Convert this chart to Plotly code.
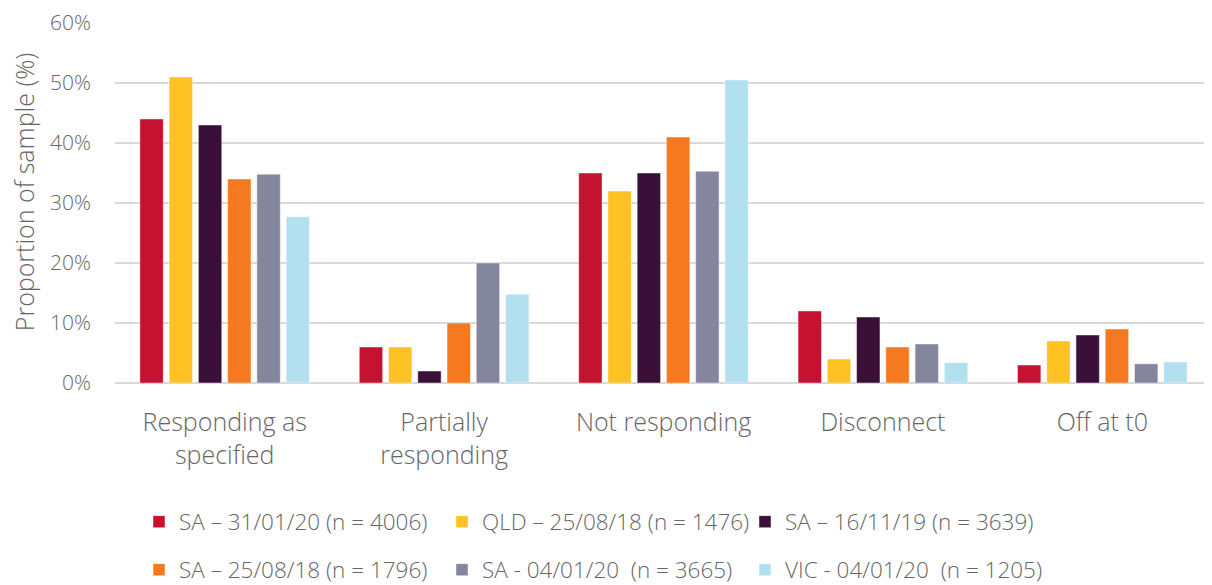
import plotly.graph_objects as go

categories = ["Responding as<br>specified", "Partially<br>responding", "Not responding", "Disconnect", "Off at t0"]
series_names = [
    "SA – 31/01/20 (n = 4006)",
    "QLD – 25/08/18 (n = 1476)",
    "SA – 16/11/19 (n = 3639)",
    "SA – 25/08/18 (n = 1796)",
    "SA - 04/01/20\u00a0\u00a0(n = 3665)",
    "VIC - 04/01/20\u00a0\u00a0(n = 1205)",
]
sa_310120 = [44, 6, 35, 12, 3]
qld_250818 = [51, 6, 32, 4, 7]
sa_161119 = [43, 2, 35, 11, 8]
sa_250818 = [34, 10, 41, 6, 9]
sa_040120 = [34.8, 20, 35.3, 6.5, 3.2]
vic_040120 = [27.7, 14.8, 50.5, 3.4, 3.5]
series_values = [sa_310120, qld_250818, sa_161119, sa_250818, sa_040120, vic_040120]
colors = ["#C41230", "#FFC222", "#3A1038", "#F47920", "#83869C", "#B3E0EE"]
y_ticks = [0, 10, 20, 30, 40, 50, 60]
y_ticklabels = ["0%", "10%", "20%", "30%", "40%", "50%", "60%"]
y_title = "Proportion of sample (%)"

font_family = "Open Sans, sans-serif"
text_color = "#666666"

# page body has an 8px margin, so the figure is drawn 8px smaller
W, H = 1204, 577

fig = go.Figure()
for i, (name, vals, col) in enumerate(zip(series_names, series_values, colors)):
    fig.add_trace(go.Bar(
        x=categories, y=vals, name=name,
        marker=dict(color=col, line=dict(color="rgba(255,255,255,0.45)", width=1)),
        legend="legend" if i < 3 else "legend2",
    ))

legend_common = dict(
    orientation="h", xref="container", yref="container",
    xanchor="left", yanchor="middle",
    font=dict(family=font_family, size=22.5, color=text_color, weight=300),
    bgcolor="rgba(0,0,0,0)", itemwidth=30,
    entrywidth=258, entrywidthmode="pixels",
)

fig.update_layout(
    width=W, height=H,
    margin=dict(l=107, r=0, t=15, b=202),
    paper_bgcolor="white", plot_bgcolor="white",
    barmode="group", bargap=0.2, bargroupgap=0.2,
    font=dict(family=font_family, size=20, color=text_color, weight=300),
    legend=dict(x=131 / W, y=1 - 514 / H, **legend_common),
    legend2=dict(x=131 / W, y=1 - 562 / H, **legend_common),
    xaxis=dict(
        tickfont=dict(size=25, color=text_color, weight=300),
        showgrid=False, showline=False, ticks="", ticklabelstandoff=22,
    ),
    yaxis=dict(
        range=[0, 60], tickvals=y_ticks, ticktext=y_ticklabels,
        tickfont=dict(size=21, color=text_color, weight=300),
        showgrid=True, gridcolor="#D9D9D9", gridwidth=1.5,
        zeroline=True, zerolinecolor="#D9D9D9", zerolinewidth=1.5,
        ticks="", ticklen=0, ticklabelstandoff=23,
    ),
    annotations=[dict(
        text=y_title, textangle=-90, showarrow=False,
        xref="paper", yref="paper", x=0, y=0.53, xanchor="center", yanchor="middle",
        xshift=-91, font=dict(family=font_family, size=25, color=text_color, weight=300),
    )],
)

fig.write_html("out.html")
